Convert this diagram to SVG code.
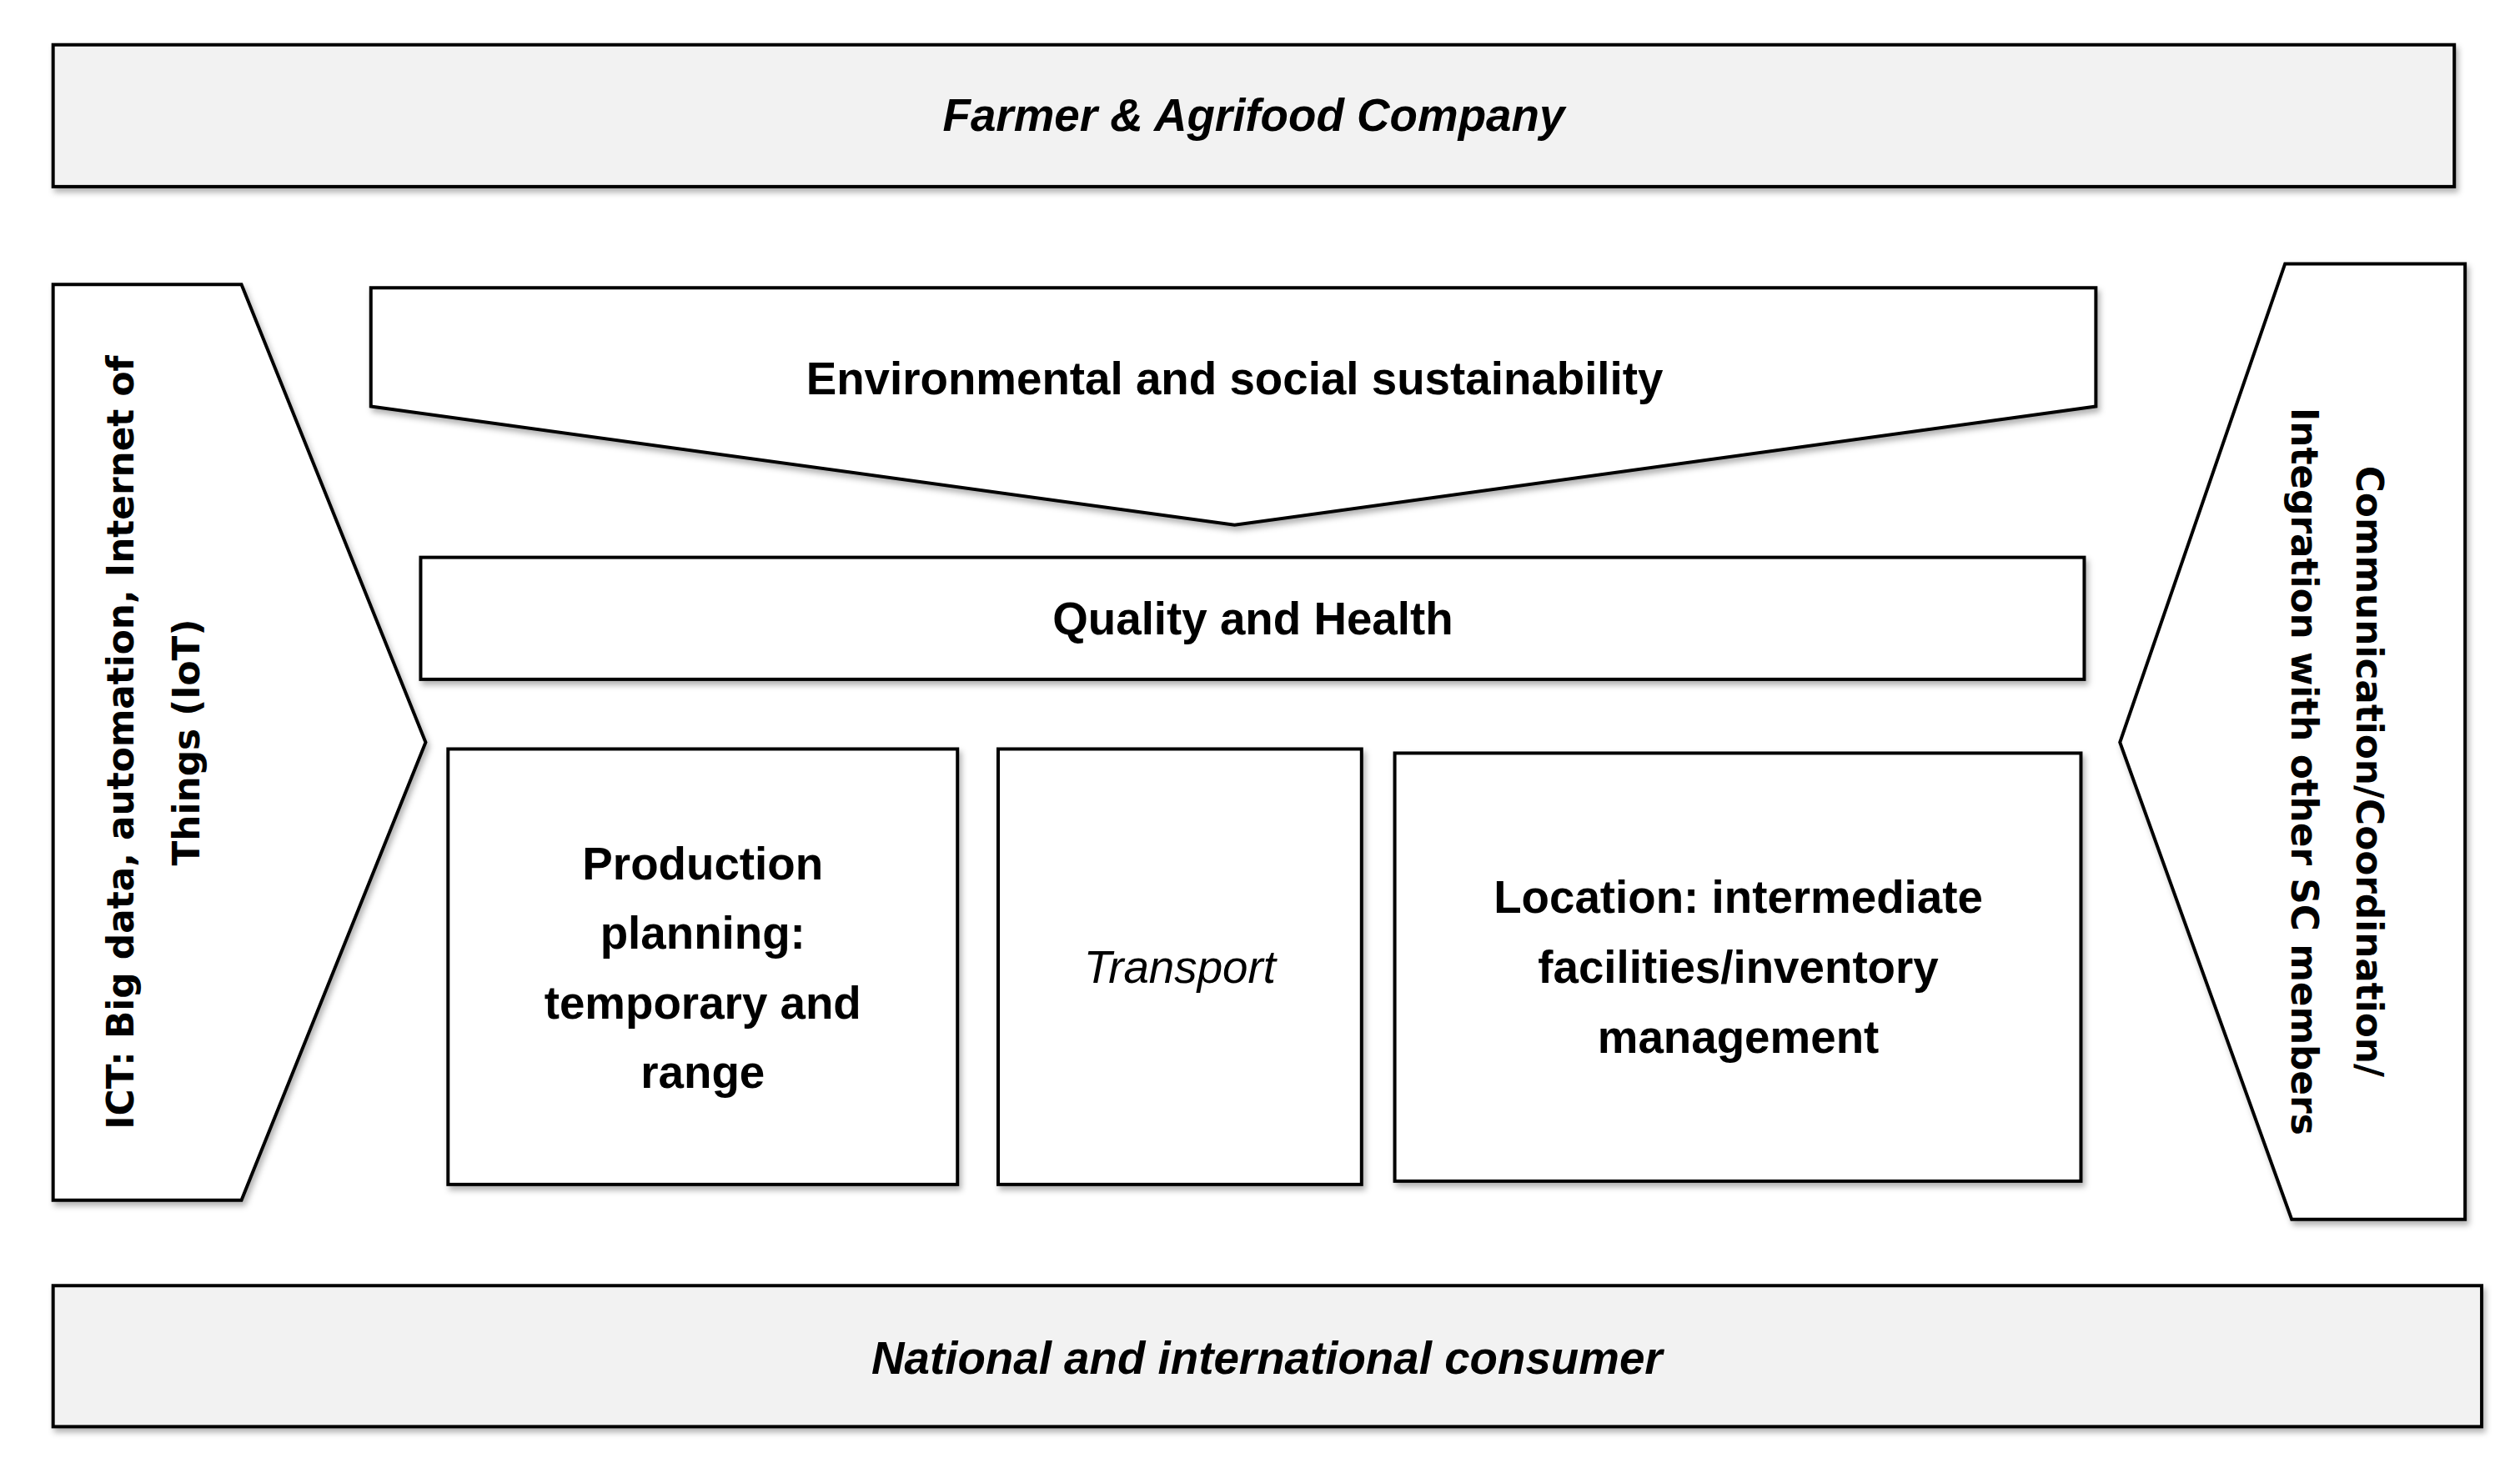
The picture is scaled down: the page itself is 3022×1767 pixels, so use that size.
<svg xmlns="http://www.w3.org/2000/svg" width="3022" height="1767" viewBox="0 0 3022 1767">
<style>
.s{stroke:#000;stroke-width:4;fill:#fff;filter:url(#sh)}
.g{fill:#f2f2f2}
.t{font-family:"Liberation Sans",Arial,sans-serif;font-size:55px;fill:#000;text-anchor:middle}
.b{font-weight:bold}
.i{font-style:italic}
.v{font-family:"DejaVu Sans",sans-serif;font-size:44px;font-weight:bold;text-anchor:middle}
</style>
<defs><filter id="sh" x="-5%" y="-5%" width="110%" height="115%"><feDropShadow dx="3" dy="5" stdDeviation="4" flood-color="#000" flood-opacity="0.3"/></filter></defs>
<rect width="3022" height="1767" fill="#fff"/>
<g transform="scale(0.995)">
<g id="top"><rect class="s g" x="64" y="54" width="2894" height="171"/><text class="t b i" x="1511" y="158">Farmer &amp; Agrifood Company</text></g>
<g id="ict"><polygon class="s" points="64,343 291,343 513,895 291,1447 64,1447"/>
<text class="v" transform="translate(161,895) rotate(-90)">ICT: Big data, automation, Internet of</text>
<text class="v" transform="translate(240,895) rotate(-90)">Things (IoT)</text></g>
<g id="env"><polygon class="s" points="447,347 2526,347 2526,490 1488,633 447,490"/><text class="t b" x="1488" y="475">Environmental and social sustainability</text></g>
<g id="quality"><rect class="s" x="507" y="672" width="2005" height="147"/><text class="t b" x="1510" y="765">Quality and Health</text></g>
<g id="prod"><rect class="s" x="540" y="903" width="614" height="525"/>
<text class="t b" x="847" y="1060">Production</text><text class="t b" x="847" y="1144">planning:</text><text class="t b" x="847" y="1228">temporary and</text><text class="t b" x="847" y="1312">range</text></g>
<g id="transport"><rect class="s" x="1203" y="903" width="438" height="525"/><text class="t i" x="1422" y="1185">Transport</text></g>
<g id="location"><rect class="s" x="1681" y="908" width="827" height="516"/>
<text class="t b" x="2095" y="1101">Location: intermediate</text><text class="t b" x="2095" y="1185">facilities/inventory</text><text class="t b" x="2095" y="1269">management</text></g>
<g id="comm"><polygon class="s" points="2754,318 2971,318 2971,1470 2762,1470 2555,895"/>
<text class="v" transform="translate(2840,930) rotate(90)">Communication/Coordination/</text>
<text class="v" transform="translate(2762,930) rotate(90)">Integration with other SC members</text></g>
<g id="bottom"><rect class="s g" x="64" y="1550" width="2927" height="170"/><text class="t b i" x="1527" y="1656">National and international consumer</text></g>
<g id="connectors"/>
</g>
</svg>
